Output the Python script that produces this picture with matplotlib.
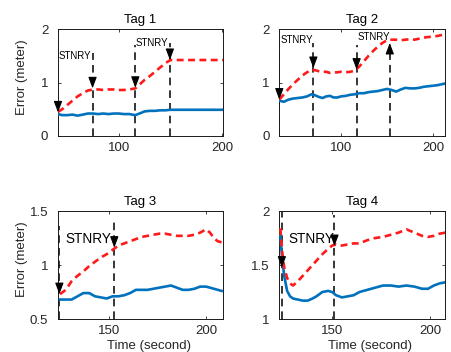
import matplotlib
matplotlib.use("Agg")
import matplotlib.pyplot as plt

plt.rcParams['font.family'] = ['Liberation Sans', 'DejaVu Sans']

# ---------------- data ----------------
titles = ["Tag 1", "Tag 2", "Tag 3", "Tag 4"]

t1_x = [41, 45, 50, 55, 60, 65, 70, 75, 80, 85, 90, 95, 100, 105, 110, 116, 120, 125, 130,
        135, 140, 145, 150, 155, 160, 170, 180, 190, 201]
t1_red = [0.45, 0.50, 0.58, 0.66, 0.74, 0.80, 0.85, 0.87, 0.87, 0.86, 0.87, 0.87, 0.86, 0.86,
          0.87, 0.89, 0.96, 1.05, 1.12, 1.20, 1.28, 1.36, 1.42, 1.42, 1.42, 1.42, 1.42, 1.42, 1.42]
t1_blue = [0.41, 0.39, 0.39, 0.40, 0.38, 0.40, 0.42, 0.42, 0.41, 0.42, 0.41, 0.42, 0.42, 0.41,
           0.41, 0.39, 0.42, 0.46, 0.47, 0.47, 0.48, 0.48, 0.49, 0.49, 0.49, 0.49, 0.49, 0.49, 0.49]

t2_x = [33, 38, 43, 48, 53, 58, 63, 68, 72, 76, 80, 84, 88, 92, 96, 100, 105, 110, 115, 120,
        125, 130, 135, 140, 145, 150, 155, 160, 165, 170, 175, 180, 185, 190, 195, 200, 205, 210, 213]
t2_red = [0.68, 0.78, 0.88, 0.97, 1.05, 1.13, 1.19, 1.24, 1.23, 1.21, 1.20, 1.20, 1.18, 1.19,
          1.19, 1.20, 1.19, 1.20, 1.22, 1.30, 1.40, 1.50, 1.59, 1.67, 1.74, 1.79, 1.80, 1.80,
          1.79, 1.80, 1.81, 1.80, 1.82, 1.84, 1.85, 1.86, 1.87, 1.89, 1.90]
t2_blue = [0.66, 0.64, 0.68, 0.70, 0.71, 0.72, 0.74, 0.78, 0.76, 0.73, 0.71, 0.74, 0.75, 0.72,
           0.72, 0.74, 0.75, 0.77, 0.78, 0.80, 0.80, 0.82, 0.83, 0.84, 0.86, 0.88, 0.86, 0.83,
           0.87, 0.90, 0.89, 0.89, 0.90, 0.92, 0.93, 0.94, 0.95, 0.97, 0.98]

t3_x = [125, 128, 131, 134, 137, 140, 143, 146, 149, 152, 155, 158, 161, 164, 167, 170, 173,
        176, 179, 182, 185, 188, 191, 194, 197, 200, 202, 204, 206, 208]
t3_red = [0.73, 0.77, 0.85, 0.90, 0.94, 0.99, 1.03, 1.07, 1.10, 1.14, 1.18, 1.20, 1.22, 1.24,
          1.26, 1.27, 1.28, 1.29, 1.29, 1.28, 1.27, 1.27, 1.27, 1.28, 1.30, 1.33, 1.30, 1.25,
          1.22, 1.21]
t3_blue = [0.68, 0.68, 0.68, 0.71, 0.74, 0.74, 0.71, 0.70, 0.69, 0.71, 0.71, 0.72, 0.74, 0.77,
           0.77, 0.77, 0.78, 0.79, 0.80, 0.81, 0.79, 0.77, 0.77, 0.78, 0.80, 0.80, 0.79, 0.78,
           0.77, 0.76]

t4_x = [123.5, 124.5, 125.5, 127, 128.5, 130, 132.5, 135, 137.5, 140, 142, 145, 148, 150, 152,
        155, 158, 161, 164, 168, 172, 176, 180, 184, 188, 192, 196, 199, 202, 205, 208]
t4_red = [1.84, 1.62, 1.48, 1.38, 1.33, 1.31, 1.35, 1.40, 1.45, 1.50, 1.54, 1.60, 1.65, 1.68,
          1.69, 1.68, 1.69, 1.70, 1.70, 1.73, 1.75, 1.76, 1.78, 1.80, 1.83, 1.80, 1.77, 1.76,
          1.77, 1.79, 1.80]
t4_blue = [1.77, 1.55, 1.40, 1.26, 1.21, 1.19, 1.18, 1.17, 1.17, 1.19, 1.21, 1.25, 1.26, 1.25,
           1.22, 1.20, 1.21, 1.22, 1.25, 1.27, 1.29, 1.31, 1.31, 1.30, 1.31, 1.30, 1.28, 1.28,
           1.31, 1.33, 1.34]

# stationary markers: x position, top of dashed line, arrow tip, arrow direction
t1_marks = [(41, 1.67, 0.44, -1), (74.5, 1.55, 0.89, -1), (116, 1.71, 0.90, -1), (149.5, 1.74, 1.42, -1)]
t2_marks = [(33, 1.90, 0.68, -1), (70, 1.74, 1.27, -1), (117, 1.71, 1.24, -1), (153, 1.56, 1.74, 1)]
t3_marks = [(124.7, 1.36, 0.73, -1), (152.9, 1.40, 1.16, -1)]
t4_marks = [(124.3, 2.0, 1.475, -1), (151.2, 1.96, 1.675, -1)]

t1_labels = [(42, 1.50, "STNRY"), (116.5, 1.74, "STNRY")]
t2_labels = [(34, 1.80, "STNRY"), (117.5, 1.85, "STNRY")]
t3_labels = [(127.8, 1.24, "STNRY")]
t4_labels = [(127.7, 1.74, "STNRY")]

xlims = [(41, 201), (33, 213), (124, 208.7), (123, 207.7)]
ylims = [(0, 2), (0, 2), (0.5, 1.5), (1, 2)]
xticks = [[100, 200], [100, 200], [150, 200], [150, 200]]
yticks = [[0, 1, 2], [0, 1, 2], [0.5, 1, 1.5], [1, 1.5, 2]]
ytick_labels = [["0", "1", "2"], ["0", "1", "2"], ["0.5", "1", "1.5"], ["1", "1.5", "2"]]

panels = [
    (t1_x, t1_red, t1_blue, t1_marks, t1_labels, 7.0),
    (t2_x, t2_red, t2_blue, t2_marks, t2_labels, 7.0),
    (t3_x, t3_red, t3_blue, t3_marks, t3_labels, 9.8),
    (t4_x, t4_red, t4_blue, t4_marks, t4_labels, 9.8),
]

positions = [
    [58 / 452, 216 / 352, 165 / 452, 107 / 352],
    [279.3 / 452, 216 / 352, 165.7 / 452, 107 / 352],
    [58 / 452, 33 / 352, 165 / 452, 108 / 352],
    [279.3 / 452, 33 / 352, 165.7 / 452, 108 / 352],
]

BLUE = "#0072BD"
RED = "#FF1A1A"
TXT = "#262626"

fig = plt.figure(figsize=(4.52, 3.52), dpi=100)

for i, (x, red, blue, marks, labels, tfs) in enumerate(panels):
    ax = fig.add_axes(positions[i])
    ax.set_xlim(*xlims[i])
    ax.set_ylim(*ylims[i])
    y0 = ylims[i][0]
    for (mx, top, tip, d) in marks:
        ax.plot([mx, mx], [y0, top], color="black", lw=1.1, dashes=(5, 3.3), zorder=2)
    ax.plot(x, blue, color=BLUE, lw=1.9, zorder=3)
    ax.plot(x, red, color=RED, lw=1.9, dashes=(2.6, 1.7), zorder=4)
    for (mx, top, tip, d) in marks:
        ax.annotate("", xy=(mx, tip), xytext=(0, -7.5 * d), textcoords="offset points",
                    arrowprops=dict(arrowstyle="-|>,head_length=0.4,head_width=0.15",
                                    mutation_scale=17, color="black", lw=0.8,
                                    shrinkA=0, shrinkB=0), zorder=5)
    for (lx, ly, s) in labels:
        ax.text(lx, ly, s, fontsize=tfs, ha="left", va="center", color="black", zorder=6)
    ax.set_xticks(xticks[i])
    ax.set_yticks(yticks[i])
    ax.set_yticklabels(ytick_labels[i])
    ax.tick_params(direction="in", length=2.5, width=0.6, top=True, right=True,
                   labelsize=9.5, colors=TXT, labelcolor=TXT)
    ax.tick_params(axis="x", pad=4.5)
    ax.tick_params(axis="y", pad=7)
    for sp in ax.spines.values():
        sp.set_linewidth(0.7)
        sp.set_color("#1a1a1a")
    ax.set_title(titles[i], fontsize=9.5, pad=4.5, color="black")
    if i in (0, 2):
        ax.set_ylabel("Error (meter)", fontsize=9.5, color=TXT)
        ax.yaxis.set_label_coords(-0.18, 0.55)
    if i in (2, 3):
        ax.set_xlabel("Time (second)", fontsize=9.5, color=TXT, va="top")
        ax.xaxis.set_label_coords(0.55, -0.19)

fig.savefig("out.png", dpi=100)
